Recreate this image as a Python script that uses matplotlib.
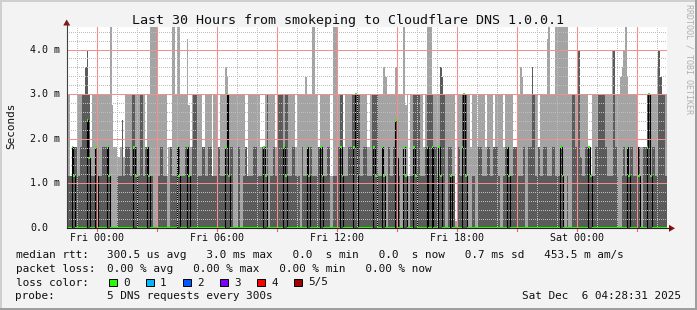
import matplotlib
matplotlib.use("Agg")
import matplotlib.pyplot as plt
from matplotlib.patches import Rectangle, Polygon
from matplotlib.lines import Line2D
from matplotlib.transforms import Affine2D, blended_transform_factory
import numpy as np

W, H = 697, 310

# 5 minute steps over 30 hours: (steps, inner band top, outer band top) in ms
smoke_runs = [
    (2, 1.17, 3.0), (1, 1.17, 1.17), (3, 1.81, 1.81), (2, 1.17, 3.0), (1, 1.81, 3.0),
    (2, 3.0, 3.0), (1, 3.61, 3.61), (1, 4.0, 4.0), (1, 3.0, 3.0), (1, 1.17, 1.81),
    (2, 1.17, 3.0), (1, 1.81, 3.0), (1, 1.81, 1.81), (2, 1.17, 3.0), (4, 1.81, 3.0),
    (1, 1.17, 3.0), (1, 0, 4.5), (1, 0, 2.75), (2, 0, 1.81), (2, 1.17, 1.6),
    (1, 1.17, 1.81), (1, 2.42, 2.42), (1, 1.17, 1.6), (3, 1.81, 3.0), (1, 1.17, 3.0),
    (2, 3.0, 3.0), (1, 1.81, 3.0), (2, 1.17, 3.0), (2, 3.0, 3.0), (1, 1.17, 3.0),
    (1, 1.81, 1.81), (1, 1.81, 3.0), (1, 1.17, 3.0), (2, 1.17, 4.5), (2, 0, 4.5),
    (2, 1.17, 3.0), (2, 1.81, 3.0), (2, 1.17, 3.0),
    # Fri 02:30
    (1, 1.17, 1.17), (2, 1.81, 1.81), (2, 1.17, 4.5), (1, 1.17, 3.0), (2, 1.81, 4.5),
    (3, 1.17, 3.0), (1, 1.81, 3.0), (1, 1.81, 4.23), (1, 1.17, 2.75), (1, 1.17, 1.81),
    (1, 1.81, 3.0), (2, 3.0, 3.0), (3, 1.17, 3.0), (2, 1.81, 1.81), (2, 1.17, 3.0),
    (2, 1.81, 3.0), (1, 1.17, 1.17), (2, 1.17, 3.0), (2, 1.81, 1.81), (3, 1.17, 3.0),
    (1, 1.81, 3.61), (1, 3.0, 3.39), (1, 1.17, 3.0), (2, 1.81, 3.0), (2, 1.17, 3.0),
    (1, 0, 3.0), (2, 1.81, 3.0), (2, 1.17, 3.0), (1, 1.81, 1.81), (1, 1.17, 1.17),
    (3, 1.17, 3.0), (2, 1.81, 3.0), (2, 1.17, 3.0), (1, 1.17, 1.81), (2, 1.81, 1.81),
    (1, 1.17, 3.0),
    # Fri 07:30
    (2, 3.0, 3.0), (2, 1.17, 3.0), (1, 1.81, 3.0), (1, 1.17, 1.81), (1, 1.17, 3.0),
    (3, 3.0, 3.0), (1, 1.81, 3.0), (2, 3.0, 3.0), (2, 1.17, 3.0), (2, 1.81, 3.0),
    (1, 1.17, 1.81), (2, 1.17, 3.0), (2, 1.81, 3.0), (1, 1.17, 3.0), (1, 1.17, 3.39),
    (1, 1.81, 3.0), (1, 1.17, 3.0), (1, 1.81, 3.0), (2, 1.17, 4.5), (2, 1.17, 3.0),
    (1, 1.81, 1.81), (2, 1.81, 3.0), (2, 1.17, 3.0), (2, 1.81, 3.0), (2, 1.17, 1.17),
    (2, 1.17, 4.5), (1, 1.17, 3.0), (1, 1.81, 3.0), (2, 3.0, 3.0), (1, 1.17, 1.81),
    (2, 1.17, 3.0), (2, 1.81, 3.0), (5, 3.0, 3.0), (2, 1.17, 3.0), (2, 1.81, 3.0),
    # Fri 12:30
    (2, 1.17, 1.81), (1, 1.17, 3.0), (4, 3.0, 3.0), (2, 1.17, 3.0), (1, 1.81, 3.0),
    (1, 1.17, 3.61), (1, 1.17, 3.39), (2, 1.81, 3.0), (2, 1.17, 3.0), (1, 1.81, 3.0),
    (1, 2.42, 3.61), (1, 3.39, 4.0), (2, 1.17, 3.0), (1, 1.81, 3.0), (1, 1.17, 4.5),
    (1, 1.17, 2.75), (1, 1.81, 3.0), (1, 1.17, 1.17), (2, 1.17, 3.0), (4, 3.0, 3.0),
    (2, 1.17, 3.0), (1, 1.17, 1.81), (1, 1.81, 3.0), (3, 3.0, 4.5), (1, 3.0, 3.0),
    (2, 1.81, 3.0), (2, 1.17, 3.0), (1, 3.61, 3.61), (1, 3.39, 3.39), (1, 3.0, 3.0),
    (2, 1.17, 3.0), (2, 1.81, 3.0), (2, 1.17, 3.0), (1, 0, 0.15), (2, 1.81, 3.0),
    (1, 1.17, 3.0), (3, 3.0, 3.0),
    # Fri 17:30
    (2, 1.17, 3.0), (1, 1.81, 1.81), (2, 1.17, 3.0), (1, 1.81, 3.0), (1, 1.17, 1.81),
    (2, 1.81, 3.0), (2, 1.17, 3.0), (1, 1.17, 1.81), (2, 1.81, 3.0), (2, 1.17, 3.0),
    (1, 1.81, 1.81), (2, 1.81, 3.0), (2, 1.17, 3.0), (1, 1.81, 3.0), (1, 1.17, 1.81),
    (2, 1.81, 3.0), (3, 1.17, 3.0), (2, 1.81, 1.81), (1, 0, 0.15), (1, 1.17, 3.0),
    (1, 1.17, 3.61), (1, 1.17, 3.39), (1, 1.81, 3.0), (2, 1.17, 3.0), (2, 1.81, 3.0),
    (1, 3.61, 3.61), (1, 3.0, 3.0), (2, 1.17, 3.0), (1, 1.81, 1.81), (2, 1.17, 3.0),
    (2, 1.81, 3.0), (1, 1.17, 4.23), (1, 1.17, 4.5), (1, 1.17, 3.0), (2, 1.81, 3.0),
    (3, 1.17, 4.5), (3, 1.81, 4.5), (1, 1.17, 4.5),
    # Fri 22:30
    (1, 1.17, 4.5), (2, 1.17, 3.0), (2, 3.0, 3.0), (1, 1.81, 3.0), (1, 2.42, 3.61),
    (1, 4.0, 4.0), (1, 1.6, 3.0), (2, 1.17, 3.0), (2, 1.81, 3.0), (1, 1.81, 1.81),
    (1, 1.17, 1.17), (2, 1.17, 3.0), (2, 1.81, 3.0), (4, 3.0, 3.0), (1, 1.81, 3.0),
    (3, 1.17, 3.0), (1, 1.17, 4.0), (1, 4.0, 4.0), (1, 1.81, 3.0), (2, 1.17, 3.0),
    (1, 1.17, 3.39), (1, 1.17, 3.61), (1, 1.81, 4.0), (1, 1.17, 4.5), (1, 1.81, 3.39),
    (1, 1.17, 3.0), (2, 1.81, 3.0), (2, 1.17, 3.0), (2, 1.81, 1.81), (2, 1.17, 1.81),
    (2, 1.81, 1.81), (2, 3.0, 3.0), (1, 1.17, 3.0), (2, 1.81, 3.0), (1, 1.17, 3.0),
    (1, 1.17, 3.61), (1, 4.0, 4.0), (1, 3.39, 3.39), (2, 3.0, 3.0), (1, 1.17, 3.0),
]

# steps where four of the five answers were near zero (no inner band)
no_inner_steps = [
    60, 61, 100, 101, 104, 105, 121, 140, 158, 159, 191, 192, 200, 201, 204, 205,
    227, 228, 241, 242, 245, 246, 260, 261, 264, 275, 276, 298, 299, 301, 302,
    331, 332, 344, 345,
]

# (step index, median rtt in ms) where the median is not zero
median_spikes = [
    (3, 1.81), (4, 1.17), (12, 2.42), (13, 1.57), (17, 1.81), (18, 1.17), (24, 1.81),
    (25, 1.17), (40, 1.81), (41, 1.17), (48, 1.81), (49, 1.17), (66, 1.81), (67, 1.17),
    (72, 1.81), (73, 1.17), (95, 1.81), (96, 3.0), (97, 1.17), (118, 1.81), (119, 1.17),
    (130, 1.81), (131, 1.17), (144, 1.81), (145, 1.17), (152, 1.81), (153, 1.17),
    (164, 1.81), (165, 1.17), (172, 1.81), (173, 3.0), (174, 1.17), (184, 1.81),
    (185, 1.17), (189, 1.81), (190, 1.17), (197, 2.42), (198, 1.57), (202, 1.81),
    (203, 1.17), (208, 1.81), (209, 1.17), (216, 1.81), (219, 1.81), (223, 1.81),
    (224, 1.17), (230, 1.17), (237, 1.81), (238, 3.0), (239, 1.17), (264, 1.81),
    (265, 1.17), (296, 1.81), (297, 1.17), (313, 1.81), (314, 1.17), (336, 1.81),
    (337, 1.17), (342, 1.81), (343, 1.17), (348, 1.81), (349, 3.0), (350, 1.17),
]

start_hour = 22 + 28 / 60 + 31 / 3600   # Thu 22:28:31, hours from Thu 00:00
tick_hours = [24, 30, 36, 42, 48]
tick_labels = ["Fri 00:00", "Fri 06:00", "Fri 12:00", "Fri 18:00", "Sat 00:00"]
y_ticks = [0, 1, 2, 3, 4]
y_tick_labels = ["0.0", "1.0 m", "2.0 m", "3.0 m", "4.0 m"]

title = "Last 30 Hours from smokeping to Cloudflare DNS 1.0.0.1"
legend_rows = [
    ("median rtt:", "300.5 us avg   3.0 ms max   0.0  s min   0.0  s now   0.7 ms sd   453.5 m am/s"),
    ("packet loss:", "0.00 % avg   0.00 % max   0.00 % min   0.00 % now"),
    ("loss color:", ""),
    ("probe:", "5 DNS requests every 300s"),
]
loss_labels = ["0", "1", "2", "3", "4", "5/5"]
loss_colors = ["#26ff00", "#00b8ff", "#0059ff", "#7e00ff", "#ff0000", "#a00000"]
stamp = "Sat Dec  6 04:28:31 2025"

MONO = "DejaVu Sans Mono"
LIGHT, DARK = "#a4a4a4", "#5b5b5b"

# ---- expand runs
inner = np.concatenate([np.full(n, a) for n, a, b in smoke_runs])
outer = np.concatenate([np.full(n, b) for n, a, b in smoke_runs])
median = np.zeros(len(inner))
for k, v in median_spikes:
    median[k] = v
for k in no_inner_steps:
    if median[k] == 0:
        inner[k] = 0
step = 5 / 60
edges = start_hour + step * np.arange(len(inner) + 1)

fig = plt.figure(figsize=(W / 100, H / 100), dpi=100)
fig.patch.set_facecolor("#f3f3f3")
px = Affine2D().scale(1 / W, -1 / H).translate(0, 1) + fig.transFigure

# rrdtool style 3d frame
for x, y, w, h, c in [(0, 0, W, 2, "#cfcfcf"), (0, 0, 2, H, "#cfcfcf"),
                      (0, H - 2, W, 2, "#9e9e9e"), (W - 2, 0, 2, H, "#9e9e9e")]:
    fig.patches.append(Rectangle((x, y), w, h, transform=px, color=c, lw=0))

x0, x1, ytop, ybot = 66.7, 666.7, 27.3, 227.8
ax = fig.add_axes([x0 / W, (H - ybot) / H, (x1 - x0) / W, (ybot - ytop) / H])
ax.set_facecolor("white")
ax.set_xlim(start_hour, start_hour + 30)
ax.set_ylim(0, 4.5)
for s in ax.spines.values():
    s.set_visible(False)
ax.set_xticks([])
ax.set_yticks([])

ax.stairs(outer, edges, fill=True, color=LIGHT, lw=0, zorder=1)
ax.stairs(inner, edges, fill=True, color=DARK, lw=0, zorder=2)
ax.stairs(median, edges, color="black", lw=0.8, zorder=3)
ax.hlines(median, edges[:-1], edges[1:], color="#26ff00", lw=1.5, zorder=4)

# grid on top, as rrdtool does: grey dots each hour / 0.2 ms, pink every 3 h / 1 ms
minor_dots = (0, (1, 1.4))
PINK = "#f29090"
for h in np.arange(23, 53):
    if h % 3 == 0:
        ax.axvline(h, color=PINK, lw=0.8, zorder=6)
    else:
        ax.axvline(h, color="#bdbdbd", lw=0.72, ls=minor_dots, antialiased=False, zorder=5)
for v in np.arange(0.2, 4.5, 0.2):
    if abs(v - round(v)) < 1e-6:
        ax.axhline(v, color=PINK, lw=0.72, antialiased=False, zorder=6)
    else:
        ax.axhline(v, color="#bdbdbd", lw=0.72, ls=minor_dots, antialiased=False, zorder=5)

# axes with arrows
fig.add_artist(Line2D([x0, x0], [ybot, 22], transform=px, color="#404040", lw=0.8))
fig.add_artist(Line2D([x0, 670], [ybot + 0.5, ybot + 0.5], transform=px, color="#202020", lw=0.8))
fig.patches.append(Polygon([(x0 - 3.5, 25.5), (x0 + 3.5, 25.5), (x0, 19.5)], closed=True,
                           transform=px, color="#8b1010", lw=0))
fig.patches.append(Polygon([(669, ybot - 3), (669, ybot + 4), (675, ybot + 0.5)], closed=True,
                           transform=px, color="#8b1010", lw=0))
for h in np.arange(24, 53, 3):
    xx = ax.transData.transform((h, 0))[0] * W / fig.bbox.width
    fig.add_artist(Line2D([xx, xx], [ybot + 1, ybot + 3.5], transform=px, color="#f06060", lw=0.8))

xt = blended_transform_factory(ax.transData, px)
for h, lab in zip(tick_hours, tick_labels):
    ax.text(h, 240.7, lab, transform=xt, ha="center", va="baseline",
            fontsize=7.2, family=MONO, color="#101010", clip_on=False)
yt = blended_transform_factory(px, ax.transData)
for v, lab in zip(y_ticks, y_tick_labels):
    ax.text(30, v, lab, transform=yt, ha="left", va="center",
            fontsize=7.2, family=MONO, color="#101010", clip_on=False)


def ftext(x, y, s, **kw):
    kw.setdefault("family", MONO)
    kw.setdefault("color", "#101010")
    fig.text(x / W, 1 - y / H, s, **kw)


ftext(348.5, 24, title, ha="center", va="baseline", fontsize=9.6)
ftext(11.5, 126, "Seconds", rotation=90, ha="center", va="center", fontsize=7.9)
ftext(688.5, 59, "RRDTOOL / TOBI OETIKER", rotation=270, ha="center", va="center",
      fontsize=6.0, color="#b0b0b0")

baselines = [258.5, 272, 285.5, 299]
for (head, body), yb in zip(legend_rows, baselines):
    ftext(15.5, yb, head, va="baseline", fontsize=7.9)
    ftext(106.8, yb, body, va="baseline", fontsize=7.9)

for i, (lab, col) in enumerate(zip(loss_labels, loss_colors)):
    bx = 108.7 + 37 * i
    fig.patches.append(Rectangle((bx, 278.7), 8, 7.3, transform=px, facecolor=col,
                                 edgecolor="black", lw=0.7))
    ftext(bx + 14.3, 285.5, lab, va="baseline", fontsize=7.9)

ftext(680.5, 299, stamp, ha="right", va="baseline", fontsize=7.9)

fig.savefig("out.png", dpi=100, facecolor=fig.get_facecolor())
